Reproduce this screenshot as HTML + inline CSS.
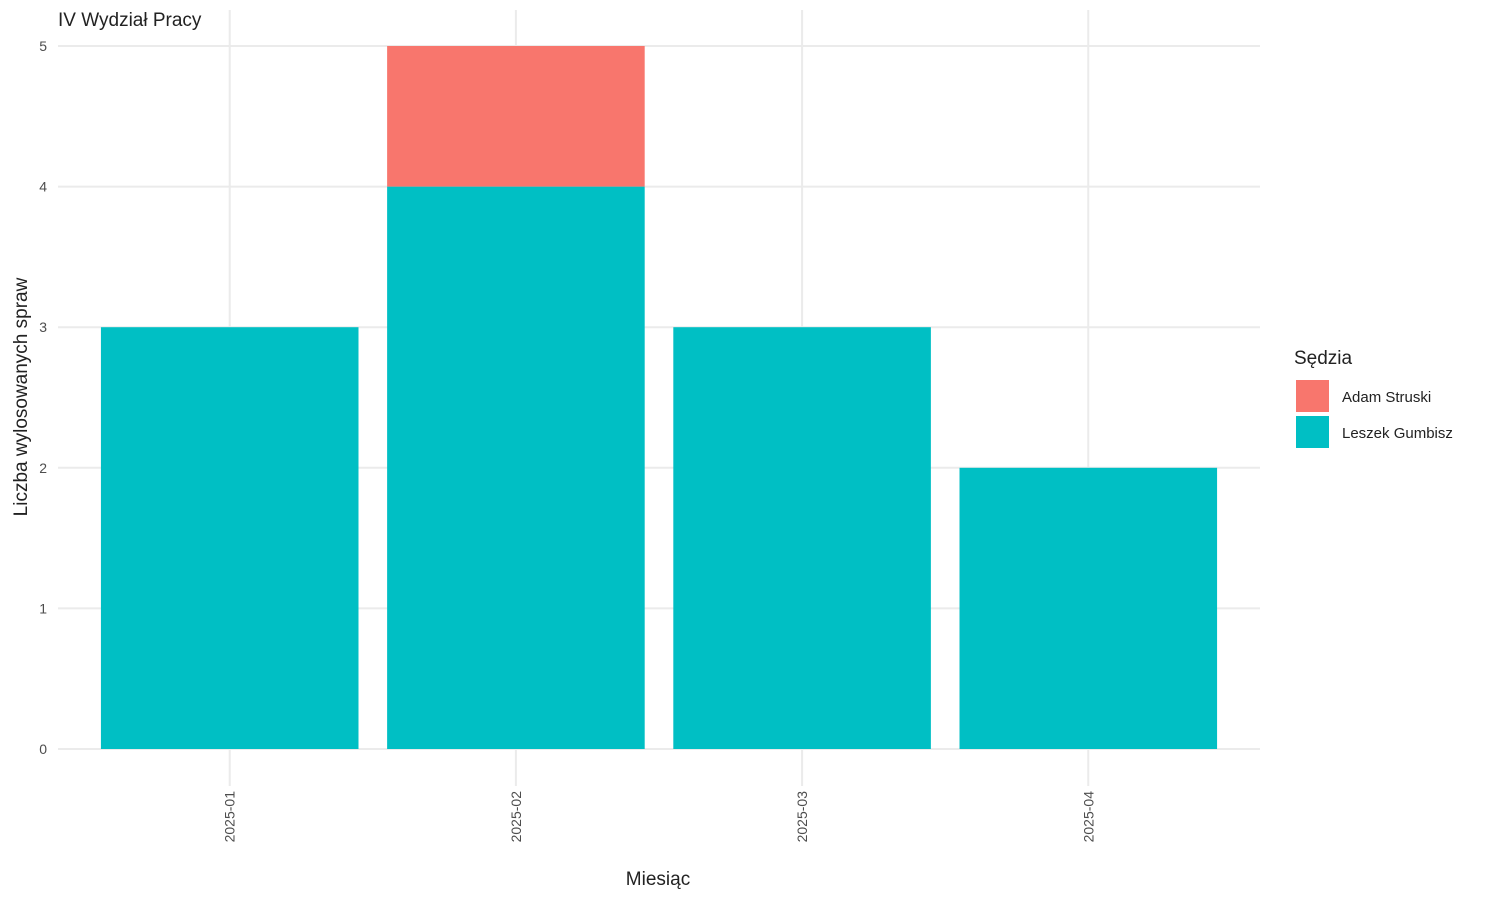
<!DOCTYPE html>
<html><head><meta charset="utf-8">
<style>
body{margin:0;background:#fff;font-family:"Liberation Sans","DejaVu Sans",sans-serif;}
svg text{font-family:"Liberation Sans","DejaVu Sans",sans-serif;}
</style></head>
<body>
<svg id="chart" width="1500" height="900" viewBox="0 0 1500 900" xmlns="http://www.w3.org/2000/svg">
<rect width="1500" height="900" fill="#fff"/>
<g id="grid"></g>
<g id="bars"></g>
<g id="yticks"></g>
<g id="xticks"></g>
<text x="58" y="26" font-size="19" fill="#222">IV Wydział Pracy</text>
<text x="658" y="885" font-size="19" fill="#222" text-anchor="middle">Miesiąc</text>
<text transform="translate(27,397) rotate(-90)" font-size="19" fill="#222" text-anchor="middle">Liczba wylosowanych spraw</text>
<g>
<text x="1294" y="364" font-size="19" fill="#222">Sędzia</text>
<rect x="1296" y="380" width="33" height="32" fill="#F8766D"/>
<text x="1342" y="402" font-size="15" fill="#222">Adam Struski</text>
<rect x="1296" y="416" width="33" height="32" fill="#00BFC4"/>
<text x="1342" y="438" font-size="15" fill="#222">Leszek Gumbisz</text>
</g>
</svg>
<script>
const categories = ["2025-01","2025-02","2025-03","2025-04"];
const leszekValues = [3,4,3,2];
const adamValues = [0,1,0,0];
const yTicks = [0,1,2,3,4,5];

const NS="http://www.w3.org/2000/svg";
const x0=58, x1=1260, yBase=749, yTop5=46;
const step=(x1-x0)/(categories.length+0.2);
function xScale(i){return x0+step*(0.6+i);}
function yScale(v){return yBase-(yBase-yTop5)*v/5;}
function mk(tag,attrs,parent){const e=document.createElementNS(NS,tag);for(const k in attrs)e.setAttribute(k,attrs[k]);parent.appendChild(e);return e;}
const grid=document.getElementById('grid'),bars=document.getElementById('bars'),yt=document.getElementById('yticks'),xt=document.getElementById('xticks');
yTicks.forEach(t=>{
  const l=mk('line',{x1:x0,x2:x1,y1:yScale(t),y2:yScale(t),stroke:'#ebebeb','stroke-width':2},grid);
  
  
  const tx=mk('text',{x:47,y:yScale(t)+5,'font-size':14,fill:'#4d4d4d','text-anchor':'end'},yt);
  
  
  tx.textContent=t;
});
categories.forEach((c,i)=>{
  const cx=xScale(i);
  const l=mk('line',{x1:cx,x2:cx,y1:10,y2:786,stroke:'#ebebeb','stroke-width':2},grid);
  
  
  const w=step*0.9;
  const b=mk('rect',{x:cx-w/2,y:yScale(leszekValues[i]),width:w,height:yScale(0)-yScale(leszekValues[i]),fill:'#00BFC4'},bars);
  
  
  if(adamValues[i]>0){
    const top=leszekValues[i]+adamValues[i];
    const a=mk('rect',{x:cx-w/2,y:yScale(top),width:w,height:yScale(leszekValues[i])-yScale(top),fill:'#F8766D'},bars);
    
    
  }
  const tx=mk('text',{transform:`translate(${cx+5},791) rotate(-90)`,'font-size':14,fill:'#4d4d4d','text-anchor':'end'},xt);
  
  
  tx.textContent=c;
});
</script>
</body></html>
